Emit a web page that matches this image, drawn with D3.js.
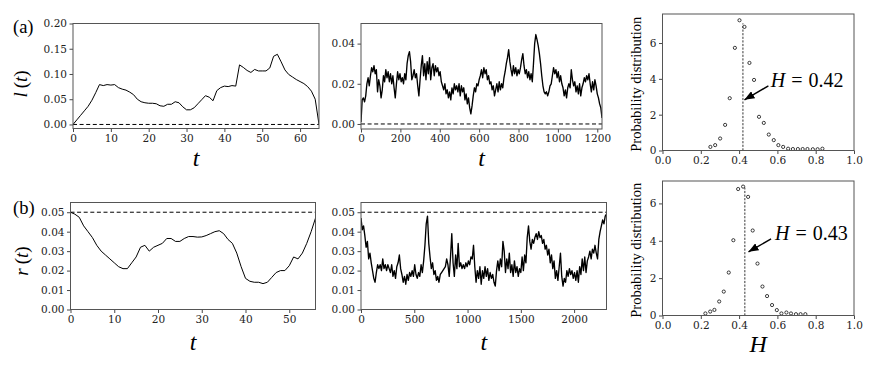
<!DOCTYPE html>
<html lang="en">
<head>
<meta charset="utf-8">
<title>l(t), r(t) and H distributions</title>
<style type="text/css">
  body { margin: 0; background: #fff; }
  svg { display: block; }
  .lab { font-family: "Liberation Serif", "Times New Roman", serif; fill: #000; }
  .tick text { font-family: "DejaVu Serif", serif !important; font-size: 10px; fill: #222; }
</style>
<script src="https://cdnjs.cloudflare.com/ajax/libs/d3/7.8.5/d3.min.js"></script>
</head>
<body>
<div id="fig"></div>
<script>
// ---- data ----
// (a) left: l(t), one value per unit of t
var lStep = 1;
var lValues = [0, 0.009, 0.018, 0.027, 0.036, 0.048, 0.063, 0.079, 0.077, 0.079,
  0.078, 0.079, 0.073, 0.070, 0.068, 0.064, 0.059, 0.050, 0.045, 0.043,
  0.042, 0.042, 0.041, 0.037, 0.036, 0.040, 0.040, 0.045, 0.043, 0.035,
  0.029, 0.029, 0.033, 0.041, 0.049, 0.057, 0.054, 0.047, 0.067, 0.073,
  0.076, 0.075, 0.077, 0.076, 0.118, 0.113, 0.107, 0.103, 0.109, 0.106,
  0.106, 0.106, 0.112, 0.135, 0.139, 0.124, 0.108, 0.099, 0.094, 0.089,
  0.085, 0.081, 0.075, 0.066, 0.050, 0];

// (a) middle: l(t), sampled every 6 units of t
var lLongStep = 6;
var lLongValues = [0.001, 0.012, 0.013, 0.011, 0.014, 0.020, 0.023, 0.019, 0.024, 0.028,
  0.026, 0.029, 0.025, 0.027, 0.016, 0.022, 0.019, 0.013, 0.017, 0.024,
  0.021, 0.027, 0.023, 0.026, 0.021, 0.025, 0.020, 0.024, 0.018, 0.013,
  0.020, 0.026, 0.022, 0.025, 0.021, 0.023, 0.020, 0.025, 0.022, 0.030,
  0.034, 0.036, 0.031, 0.022, 0.024, 0.027, 0.023, 0.025, 0.019, 0.014,
  0.022, 0.029, 0.034, 0.024, 0.030, 0.022, 0.031, 0.025, 0.033, 0.022,
  0.028, 0.030, 0.024, 0.029, 0.026, 0.028, 0.024, 0.026, 0.021, 0.019,
  0.017, 0.020, 0.015, 0.017, 0.013, 0.016, 0.012, 0.018, 0.015, 0.020,
  0.017, 0.019, 0.016, 0.020, 0.014, 0.019, 0.016, 0.018, 0.012, 0.015,
  0.010, 0.013, 0.008, 0.005, 0.009, 0.014, 0.018, 0.016, 0.020, 0.019,
  0.022, 0.024, 0.027, 0.023, 0.028, 0.025, 0.027, 0.022, 0.024, 0.020,
  0.021, 0.017, 0.019, 0.014, 0.017, 0.020, 0.016, 0.021, 0.017, 0.020,
  0.018, 0.023, 0.026, 0.030, 0.033, 0.037, 0.031, 0.027, 0.024, 0.029,
  0.025, 0.028, 0.024, 0.027, 0.025, 0.028, 0.032, 0.035, 0.029, 0.025,
  0.027, 0.023, 0.026, 0.022, 0.025, 0.021, 0.030, 0.040, 0.0445, 0.042,
  0.039, 0.035, 0.030, 0.024, 0.019, 0.016, 0.015, 0.016, 0.014, 0.016,
  0.019, 0.020, 0.024, 0.028, 0.025, 0.027, 0.023, 0.026, 0.021, 0.024,
  0.020, 0.018, 0.014, 0.017, 0.013, 0.018, 0.020, 0.018, 0.027, 0.022,
  0.019, 0.021, 0.016, 0.019, 0.015, 0.020, 0.014, 0.018, 0.020, 0.023,
  0.021, 0.024, 0.022, 0.025, 0.020, 0.016, 0.021, 0.017, 0.022, 0.019,
  0.015, 0.013, 0.010, 0.008, 0.003];

// (b) left: r(t), one value per unit of t
var rStep = 1;
var rValues = [0.050, 0.049, 0.0474, 0.043, 0.040, 0.037, 0.033, 0.030, 0.028, 0.026,
  0.024, 0.022, 0.021, 0.021, 0.024, 0.027, 0.032, 0.033, 0.030, 0.032,
  0.033, 0.034, 0.0365, 0.0365, 0.035, 0.035, 0.0365, 0.0375, 0.0375, 0.0372,
  0.0373, 0.038, 0.039, 0.040, 0.0405, 0.039, 0.036, 0.034, 0.029, 0.022,
  0.016, 0.0145, 0.014, 0.014, 0.0133, 0.014, 0.0165, 0.019, 0.020, 0.020,
  0.0225, 0.027, 0.026, 0.029, 0.034, 0.040, 0.047];

// (b) middle: r(t), sampled every 12 units of t
var rLongStep = 12;
var rLongValues = [0.047, 0.041, 0.043, 0.038, 0.032, 0.035, 0.026, 0.029, 0.024, 0.020,
  0.016, 0.014, 0.019, 0.023, 0.021, 0.023, 0.020, 0.026, 0.021, 0.023,
  0.020, 0.023, 0.021, 0.019, 0.023, 0.017, 0.020, 0.016, 0.022, 0.024,
  0.028, 0.021, 0.018, 0.014, 0.017, 0.013, 0.018, 0.015, 0.019, 0.017,
  0.020, 0.017, 0.023, 0.018, 0.016, 0.019, 0.017, 0.023, 0.019, 0.025,
  0.033, 0.044, 0.048, 0.034, 0.027, 0.021, 0.024, 0.018, 0.020, 0.015,
  0.017, 0.014, 0.018, 0.019, 0.020, 0.021, 0.022, 0.026, 0.023, 0.017,
  0.027, 0.039, 0.024, 0.017, 0.028, 0.021, 0.034, 0.022, 0.024, 0.021,
  0.023, 0.021, 0.024, 0.022, 0.025, 0.023, 0.027, 0.026, 0.033, 0.022,
  0.014, 0.020, 0.016, 0.022, 0.013, 0.020, 0.016, 0.022, 0.017, 0.021,
  0.015, 0.019, 0.016, 0.018, 0.014, 0.012, 0.020, 0.025, 0.020, 0.026,
  0.022, 0.035, 0.030, 0.019, 0.026, 0.021, 0.029, 0.019, 0.023, 0.017,
  0.025, 0.019, 0.022, 0.017, 0.021, 0.019, 0.027, 0.020, 0.028, 0.024,
  0.037, 0.043, 0.035, 0.031, 0.036, 0.034, 0.037, 0.039, 0.036, 0.040,
  0.037, 0.038, 0.034, 0.036, 0.031, 0.033, 0.028, 0.031, 0.024, 0.028,
  0.021, 0.025, 0.016, 0.020, 0.015, 0.022, 0.029, 0.017, 0.012, 0.016,
  0.014, 0.020, 0.017, 0.021, 0.018, 0.020, 0.016, 0.019, 0.015, 0.020,
  0.014, 0.022, 0.018, 0.026, 0.020, 0.027, 0.019, 0.025, 0.027, 0.030,
  0.026, 0.031, 0.029, 0.033, 0.029, 0.026, 0.036, 0.040, 0.043, 0.046,
  0.044, 0.048, 0.049];

// right column: distributions of H
var hTop = [0.250, 0.275, 0.301, 0.327, 0.351, 0.378, 0.402, 0.428, 0.454, 0.478,
  0.504, 0.529, 0.555, 0.581, 0.605, 0.630, 0.656, 0.681, 0.707, 0.732,
  0.757, 0.785, 0.810, 0.835];
var pTop = [0.20, 0.30, 0.67, 1.43, 2.92, 5.73, 7.27, 6.90, 4.89, 3.94,
  1.88, 1.54, 0.89, 0.58, 0.30, 0.20, 0.10, 0.08, 0.08, 0.08,
  0.08, 0.07, 0.07, 0.10];
var hBot = [0.224, 0.249, 0.271, 0.296, 0.320, 0.346, 0.370, 0.395, 0.421, 0.447,
  0.471, 0.496, 0.522, 0.546, 0.572, 0.597, 0.621, 0.647, 0.671, 0.697,
  0.721, 0.746];
var pBot = [0.11, 0.21, 0.30, 0.75, 1.28, 2.30, 4.03, 6.77, 6.90, 6.35,
  4.55, 2.78, 1.55, 1.04, 0.56, 0.29, 0.11, 0.16, 0.11, 0.07,
  0.07, 0.07];
var hMeanTop = 0.42, hMeanBot = 0.43;

// ---- drawing ----
var W = 872, H = 371;
var svg = d3.select("#fig").append("svg")
  .attr("width", W)
  .attr("height", H);

svg.append("defs").append("marker")
  .attr("id", "head")
  .attr("viewBox", "0 0 10 8")
  .attr("refX", 10).attr("refY", 4)
  .attr("markerWidth", 10).attr("markerHeight", 8)
  .attr("markerUnits", "userSpaceOnUse")
  .attr("orient", "auto")
  .append("path")
  .attr("d", "M0,0 L10,4 L0,8 z")
  .attr("fill", "#000");

var panelCount = 0;

function makePanel(c) {
  var x = d3.scaleLinear().domain(c.xDomain).range([c.left, c.right]);
  var y = d3.scaleLinear().domain(c.yDomain).range([c.bottom, c.top]);
  var id = "clip" + (panelCount++);

  svg.append("clipPath").attr("id", id)
    .append("rect")
    .attr("x", c.left).attr("y", c.top)
    .attr("width", c.right - c.left).attr("height", c.bottom - c.top);

  var ax = svg.append("g")
    .attr("transform", "translate(0," + c.bottom + ")")
    .call(d3.axisBottom(x).tickValues(c.xTicks).tickFormat(d3.format(c.xFmt))
      .tickSize(3.5).tickPadding(2.5));
  var ay = svg.append("g")
    .attr("transform", "translate(" + c.left + ",0)")
    .call(d3.axisLeft(y).tickValues(c.yTicks).tickFormat(d3.format(c.yFmt))
      .tickSize(3.5).tickPadding(2.5));

  [ax, ay].forEach(function(a) {
    a.attr("font-family", null).attr("font-size", null);
    a.select(".domain").remove();
    a.selectAll(".tick line").attr("stroke", "#333").attr("stroke-width", 0.9);
    a.selectAll(".tick text")
      .style("font-family", "'DejaVu Serif', serif")
      .style("font-size", "10.5px")
      .attr("fill", "#222");
  });

  var g = svg.append("g").attr("clip-path", "url(#" + id + ")");

  svg.append("rect")
    .attr("x", c.left).attr("y", c.top)
    .attr("width", c.right - c.left).attr("height", c.bottom - c.top)
    .attr("fill", "none")
    .attr("stroke", "#555")
    .attr("stroke-width", 1);

  return { g: g, x: x, y: y };
}

function drawSeries(p, values, step, width) {
  var line = d3.line()
    .x(function(d, i) { return p.x(i * step); })
    .y(function(d) { return p.y(d); });
  p.g.append("path")
    .datum(values)
    .attr("d", line)
    .attr("fill", "none")
    .attr("stroke", "#000")
    .attr("stroke-width", width)
    .attr("stroke-linejoin", "round");
}

function hLine(p, v) {
  var d = p.x.domain();
  p.g.append("line")
    .attr("x1", p.x(d[0])).attr("x2", p.x(d[1]))
    .attr("y1", p.y(v)).attr("y2", p.y(v))
    .attr("stroke", "#000")
    .attr("stroke-width", 1)
    .attr("stroke-dasharray", "4,2.6");
}

function xLabel(p, text, size) {
  var r = p.x.range();
  return svg.append("text").attr("class", "lab")
    .attr("x", (r[0] + r[1]) / 2)
    .attr("font-size", size + "px")
    .attr("font-style", "italic")
    .attr("text-anchor", "middle")
    .text(text);
}

function yLabelMath(xPos, yPos, name) {
  var t = svg.append("text").attr("class", "lab")
    .attr("transform", "translate(" + xPos + "," + yPos + ") rotate(-90)")
    .attr("font-size", "19px")
    .attr("text-anchor", "middle");
  t.append("tspan").attr("font-style", "italic").text(name);
  t.append("tspan").attr("dx", 4).text("(");
  t.append("tspan").attr("font-style", "italic").text("t");
  t.append("tspan").text(")");
}

function distPanel(c, hs, ps, hMean, vTop, tip, tail, txt) {
  var p = makePanel(c);
  p.g.append("line")
    .attr("x1", p.x(hMean)).attr("x2", p.x(hMean))
    .attr("y1", p.y(0)).attr("y2", p.y(vTop))
    .attr("stroke", "#000")
    .attr("stroke-width", 0.8)
    .attr("stroke-dasharray", "2.2,1.4");
  p.g.selectAll("circle.pt")
    .data(hs)
    .enter().append("circle")
    .attr("class", "pt")
    .attr("cx", function(d) { return p.x(d); })
    .attr("cy", function(d, i) { return p.y(ps[i]); })
    .attr("r", 1.6)
    .attr("fill", "#fff")
    .attr("stroke", "#000")
    .attr("stroke-width", 0.75);

  svg.append("line")
    .attr("x1", p.x(tail[0])).attr("y1", p.y(tail[1]))
    .attr("x2", p.x(tip[0])).attr("y2", p.y(tip[1]))
    .attr("stroke", "#000")
    .attr("stroke-width", 1.4)
    .attr("marker-end", "url(#head)");

  var t = svg.append("text").attr("class", "lab")
    .attr("x", p.x(txt[0])).attr("y", p.y(txt[1]))
    .attr("font-size", "20px");
  t.append("tspan").attr("font-style", "italic").text("H");
  t.append("tspan").attr("dx", 6).text("=");
  t.append("tspan").attr("dx", 6).text(txt[2]);

  svg.append("text").attr("class", "lab")
    .attr("transform", "translate(641," + ((c.top + c.bottom) / 2 + 2) + ") rotate(-90)")
    .attr("font-size", "14.5px")
    .attr("text-anchor", "middle")
    .text("Probability distribution");
  return p;
}

// (a) left
var pA1 = makePanel({
  left: 73, right: 319, top: 23.5, bottom: 128.5,
  xDomain: [0, 65], yDomain: [-0.008, 0.2],
  xTicks: [0, 10, 20, 30, 40, 50, 60], yTicks: [0, 0.05, 0.1, 0.15, 0.2],
  xFmt: "d", yFmt: ".2f"
});
hLine(pA1, 0);
drawSeries(pA1, lValues, lStep, 1);
xLabel(pA1, "t", 24).attr("y", 166);
yLabelMath(27, 84, "l");

// (a) middle
var pA2 = makePanel({
  left: 361, right: 602, top: 23.5, bottom: 129,
  xDomain: [0, 1224], yDomain: [-0.0025, 0.05],
  xTicks: [0, 200, 400, 600, 800, 1000, 1200], yTicks: [0, 0.02, 0.04],
  xFmt: "d", yFmt: ".2f"
});
hLine(pA2, 0);
drawSeries(pA2, lLongValues, lLongStep, 1.35);
xLabel(pA2, "t", 24).attr("y", 166);

// (a) right
distPanel({
  left: 662.5, right: 854, top: 14, bottom: 150.5,
  xDomain: [0, 1], yDomain: [0, 7.62],
  xTicks: [0, 0.2, 0.4, 0.6, 0.8, 1], yTicks: [0, 2, 4, 6],
  xFmt: ".1f", yFmt: "d"
}, hTop, pTop, hMeanTop, 7.1, [0.428, 2.83], [0.553, 3.61], [0.565, 3.54, "0.42"]);

// (b) left
var pB1 = makePanel({
  left: 70.5, right: 315.5, top: 202.5, bottom: 309.5,
  xDomain: [0, 56], yDomain: [0, 0.055],
  xTicks: [0, 10, 20, 30, 40, 50], yTicks: [0, 0.01, 0.02, 0.03, 0.04, 0.05],
  xFmt: "d", yFmt: ".2f"
});
hLine(pB1, 0.05);
drawSeries(pB1, rValues, rStep, 1);
xLabel(pB1, "t", 24).attr("y", 350);
yLabelMath(28, 261, "r");

// (b) middle
var pB2 = makePanel({
  left: 361, right: 606.5, top: 202.5, bottom: 309.5,
  xDomain: [0, 2304], yDomain: [0, 0.055],
  xTicks: [0, 500, 1000, 1500, 2000], yTicks: [0, 0.01, 0.02, 0.03, 0.04, 0.05],
  xFmt: "d", yFmt: ".2f"
});
hLine(pB2, 0.05);
drawSeries(pB2, rLongValues, rLongStep, 1.35);
xLabel(pB2, "t", 24).attr("y", 350);

// (b) right
var pB3 = distPanel({
  left: 662.5, right: 854, top: 181, bottom: 315.5,
  xDomain: [0, 1], yDomain: [0, 7.2],
  xTicks: [0, 0.2, 0.4, 0.6, 0.8, 1], yTicks: [0, 2, 4, 6],
  xFmt: ".1f", yFmt: "d"
}, hBot, pBot, hMeanBot, 6.85, [0.449, 3.41], [0.567, 4.10], [0.588, 4.03, "0.43"]);
xLabel(pB3, "H", 24).attr("y", 352);

// panel letters
svg.append("text").attr("class", "lab")
  .attr("x", 13).attr("y", 32.5)
  .attr("font-size", "18.5px")
  .text("(a)");
svg.append("text").attr("class", "lab")
  .attr("x", 13).attr("y", 213.5)
  .attr("font-size", "18.5px")
  .text("(b)");
</script>
</body>
</html>
